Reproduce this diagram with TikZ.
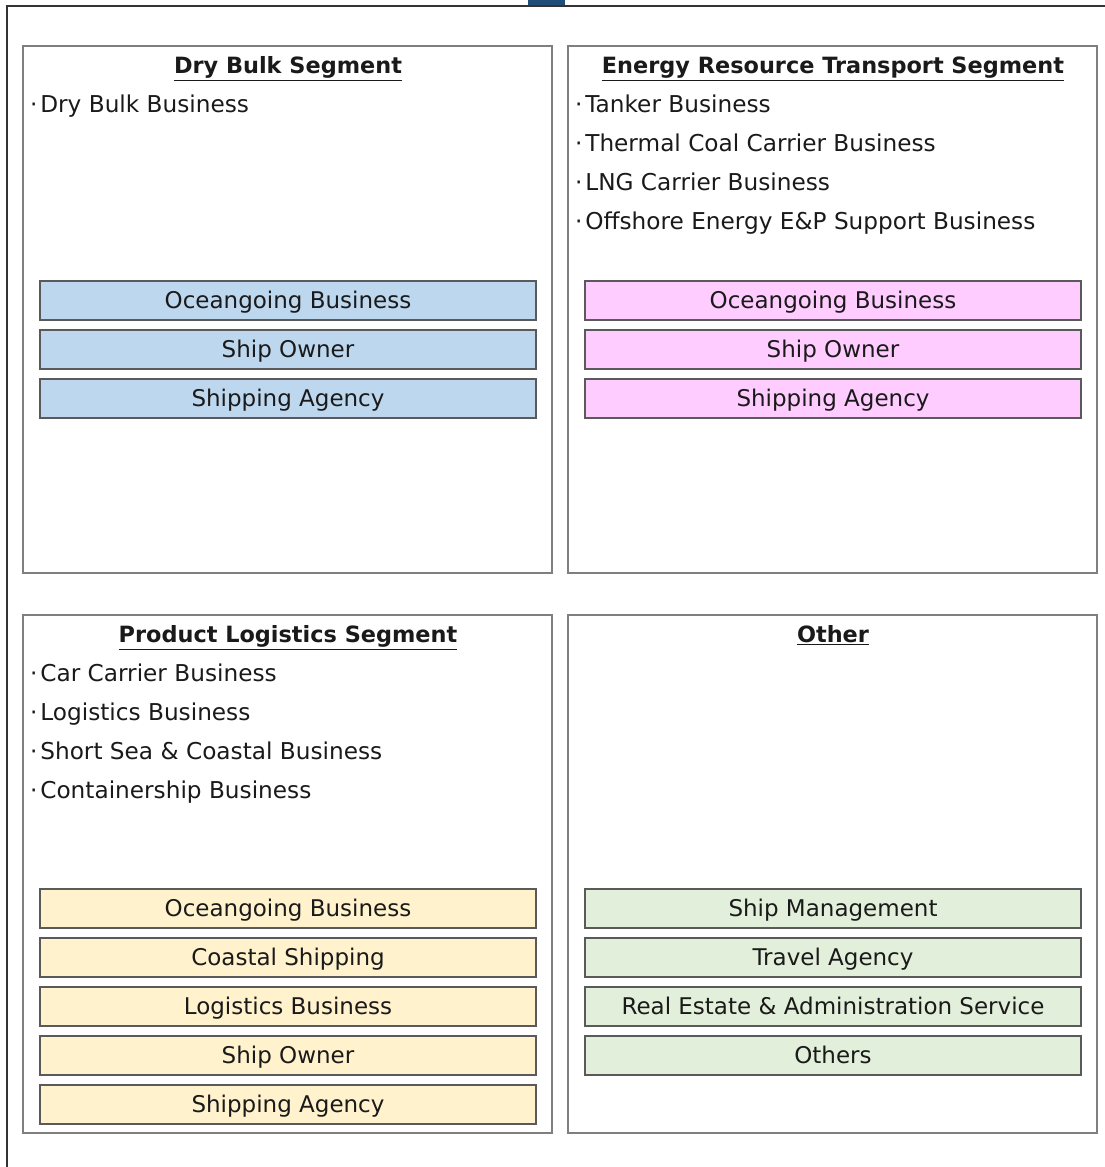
\documentclass[tikz,border=0pt]{standalone}
\usepackage{fontspec}
\setmainfont{DejaVu Sans}
\definecolor{framecol}{HTML}{333333}
\definecolor{boxcol}{HTML}{7F7F7F}
\definecolor{barline}{HTML}{5A5A5A}
\definecolor{cblue}{HTML}{BDD7EE}
\definecolor{cpink}{HTML}{FFCCFF}
\definecolor{cyell}{HTML}{FFF2CC}
\definecolor{cgreen}{HTML}{E2EFDA}
\definecolor{tabblue}{HTML}{1F4E79}
\definecolor{txt}{HTML}{1A1A1A}
\tikzset{
  segbox/.style={draw=boxcol, line width=1.5pt},
  bar/.style={draw=barline, line width=1.6pt, minimum width=496pt, minimum height=39pt, inner sep=0pt, font=\fontsize{23}{26}\selectfont, text=txt, text height=17pt, text depth=2pt},
  ttl/.style={font=\bfseries\fontsize{22.4}{26}\selectfont, text=txt, inner sep=0pt, text height=17pt, text depth=2pt},
  item/.style={anchor=west, font=\fontsize{23.2}{26}\selectfont, text=txt, inner sep=0pt, text height=17pt, text depth=2pt}
}
\newcommand{\bul}{{·\kern0.12em}}
\begin{document}
\begin{tikzpicture}[x=1pt,y=-1pt]
\useasboundingbox (0,0) rectangle (1104,1167);
\fill[white] (0,0) rectangle (1104,1167);
% outer frame
\draw[framecol, line width=2pt] (1110,6) -- (7,6) -- (7,1175);
\fill[tabblue] (528,0) rectangle (565,5);
% segment boxes
\draw[segbox] (23,46) rectangle (552,573);
\draw[segbox] (568,46) rectangle (1097,573);
\draw[segbox] (23,615) rectangle (552,1133);
\draw[segbox] (568,615) rectangle (1097,1133);
% titles
\node[ttl] (t1) at (288,66) {\underline{Dry Bulk Segment}};
\node[ttl] (t2) at (833,66) {\underline{Energy Resource Transport Segment}};
\node[ttl] (t3) at (288,635) {\underline{Product Logistics Segment}};
\node[ttl] (t4) at (833,635) {\underline{Other}};
% items
\node[item] (i11) at (30,105) {\bul Dry Bulk Business};
\node[item] (i21) at (575,105) {\bul Tanker Business};
\node[item] (i22) at (575,144) {\bul Thermal Coal Carrier Business};
\node[item] (i23) at (575,183) {\bul LNG Carrier Business};
\node[item] (i24) at (575,222) {\bul Offshore Energy E\&P Support Business};
\node[item] (i31) at (30,674) {\bul Car Carrier Business};
\node[item] (i32) at (30,713) {\bul Logistics Business};
\node[item] (i33) at (30,752) {\bul Short Sea \& Coastal Business};
\node[item] (i34) at (30,791) {\bul Containership Business};
% bars dry bulk
\node[bar, fill=cblue] (b11) at (288,300.5) {Oceangoing Business};
\node[bar, fill=cblue] (b12) at (288,349.5) {Ship Owner};
\node[bar, fill=cblue] (b13) at (288,398.5) {Shipping Agency};
% bars energy
\node[bar, fill=cpink] (b21) at (833,300.5) {Oceangoing Business};
\node[bar, fill=cpink] (b22) at (833,349.5) {Ship Owner};
\node[bar, fill=cpink] (b23) at (833,398.5) {Shipping Agency};
% bars product
\node[bar, fill=cyell] (b31) at (288,908.5) {Oceangoing Business};
\node[bar, fill=cyell] (b32) at (288,957.5) {Coastal Shipping};
\node[bar, fill=cyell] (b33) at (288,1006.5) {Logistics Business};
\node[bar, fill=cyell] (b34) at (288,1055.5) {Ship Owner};
\node[bar, fill=cyell] (b35) at (288,1104.5) {Shipping Agency};
% bars other
\node[bar, fill=cgreen] (b41) at (833,908.5) {Ship Management};
\node[bar, fill=cgreen] (b42) at (833,957.5) {Travel Agency};
\node[bar, fill=cgreen] (b43) at (833,1006.5) {Real Estate \& Administration Service};
\node[bar, fill=cgreen] (b44) at (833,1055.5) {Others};
\end{tikzpicture}
\end{document}
